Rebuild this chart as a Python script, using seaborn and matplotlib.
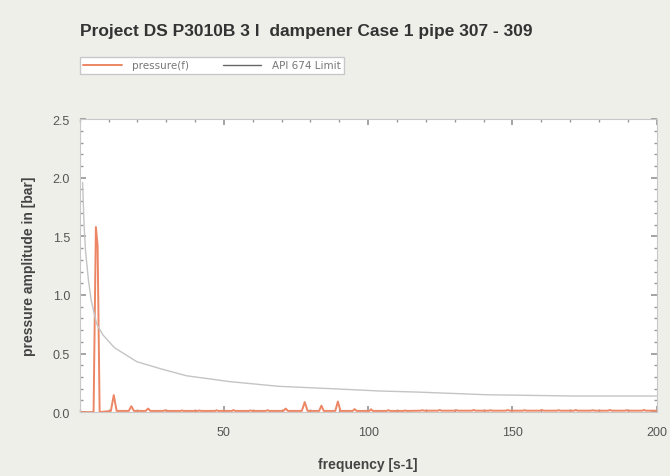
import numpy as np
import pandas as pd
import seaborn as sns
import matplotlib.pyplot as plt
from matplotlib.ticker import MultipleLocator

# pressure spectrum
freq = [0.5, 4.8, 5.6, 6.2, 6.9, 10.8, 11.8, 12.8, 17.0, 17.9, 18.8,
        22.9, 23.7, 24.5, 29.0, 29.6, 30.2, 35.0, 35.5, 36.0, 41.0, 41.5, 42.0,
        47.0, 47.4, 48.0, 52.8, 53.3, 53.8, 58.6, 59.2, 59.8, 64.5, 65.1, 65.7,
        70.6, 71.4, 72.2, 77.0, 78.0, 79.0, 83.0, 83.8, 84.6, 88.6, 89.5, 90.4,
        94.6, 95.3, 96.0, 100.4, 101.0, 101.6, 106.4, 107.0, 107.6, 112.3, 112.8, 113.4,
        118.2, 118.8, 119.4, 124.2, 124.8, 125.4, 130.0, 130.6, 131.2, 136.0, 136.6, 137.2,
        141.8, 142.4, 143.0, 147.8, 148.4, 149.0, 153.6, 154.2, 154.8, 159.6, 160.2, 160.8,
        165.4, 166.0, 166.6, 171.4, 172.0, 172.6, 177.2, 177.8, 178.4, 183.2, 183.8, 184.4,
        189.0, 189.6, 190.2, 195.0, 195.6, 196.2, 200.0]
pressure = [0.0, 0.0, 1.58, 1.42, 0.0, 0.01, 0.145, 0.01, 0.01, 0.05, 0.01,
            0.01, 0.03, 0.01, 0.01, 0.016, 0.01, 0.01, 0.014, 0.01, 0.01, 0.014, 0.01,
            0.01, 0.016, 0.01, 0.01, 0.018, 0.01, 0.01, 0.014, 0.01, 0.01, 0.016, 0.01,
            0.01, 0.03, 0.01, 0.01, 0.085, 0.01, 0.01, 0.055, 0.01, 0.01, 0.09, 0.01,
            0.01, 0.025, 0.01, 0.01, 0.024, 0.01, 0.01, 0.016, 0.01, 0.01, 0.014, 0.01,
            0.012, 0.016, 0.012, 0.012, 0.018, 0.012, 0.012, 0.016, 0.012, 0.012, 0.018, 0.012,
            0.012, 0.016, 0.012, 0.012, 0.018, 0.012, 0.012, 0.016, 0.012, 0.012, 0.018, 0.012,
            0.012, 0.016, 0.012, 0.012, 0.018, 0.012, 0.012, 0.016, 0.012, 0.012, 0.018, 0.012,
            0.012, 0.016, 0.012, 0.012, 0.018, 0.012, 0.012]

# API 674 limit curve
limit_freq = [1.0, 1.5, 2.0, 3.0, 4.0, 5.9, 8.0, 12.0, 19.8, 28.0, 37.0, 52.0,
              69.0, 87.0, 104.0, 118.0, 141.0, 172.0, 200.0]
limit_val = [1.96, 1.60, 1.38, 1.13, 0.95, 0.75, 0.66, 0.55, 0.43, 0.37, 0.31, 0.26,
             0.22, 0.20, 0.18, 0.17, 0.148, 0.137, 0.137]

title = "Project DS P3010B 3 l  dampener Case 1 pipe 307 - 309"

sns.set_theme(style="ticks")
plt.rcParams['font.family'] = ['Liberation Sans', 'DejaVu Sans']

bg = "#efefea"
fig = plt.figure(figsize=(6.7, 4.77), dpi=100, facecolor=bg)
ax = fig.add_axes([0.119, 0.134, 0.861, 0.614])
ax.set_facecolor("white")

df_p = pd.DataFrame({"frequency": freq, "amp": pressure})
df_l = pd.DataFrame({"frequency": limit_freq, "amp": limit_val})

sns.lineplot(data=df_p, x="frequency", y="amp", ax=ax, color="#ec8664",
             linewidth=1.4, label="pressure(f)")
sns.lineplot(data=df_l, x="frequency", y="amp", ax=ax, color="#c4c4c4",
             linewidth=1.0, label="API 674 Limit")

ax.set_xlim(0, 200)
ax.set_ylim(0, 2.5)
ax.set_xticks([50, 100, 150, 200])
ax.set_yticks([0.0, 0.5, 1.0, 1.5, 2.0, 2.5])
ax.set_yticklabels(["0.0", "0.5", "1.0", "1.5", "2.0", "2.5"])
ax.xaxis.set_minor_locator(MultipleLocator(10))
ax.yaxis.set_minor_locator(MultipleLocator(0.1))
ax.tick_params(which="both", direction="in", top=True, right=True, color="#999999",
               labelsize=9, labelcolor="#555555")
ax.tick_params(which="major", length=4)
ax.tick_params(which="minor", length=2)
ax.tick_params(axis="x", which="major", pad=10)
ax.tick_params(axis="y", which="major", pad=7)
for s in ax.spines.values():
    s.set_color("#c8c8c8")
    s.set_linewidth(0.8)

ax.set_xlabel("frequency [s-1]", fontsize=10, fontweight="bold", color="#444444",
              labelpad=14)
ax.set_ylabel("pressure amplitude in [bar]", fontsize=10, fontweight="bold",
              color="#444444", labelpad=12)

leg = ax.legend(loc="lower left", bbox_to_anchor=(0.0, 1.155), borderaxespad=0,
                ncol=2, frameon=True, fancybox=False, framealpha=1, edgecolor="#c8c8c8",
                handlelength=3.7, handletextpad=1.0, columnspacing=3.2, borderpad=0.35,
                labelcolor="#777777", prop={"family": "DejaVu Sans", "size": 7.5})
leg.get_lines()[1].set_color("#666666")

fig.text(0.119, 0.935, title, fontsize=12.5, fontweight="bold", color="#333333",
         ha="left", va="center")

fig.savefig("out.png", dpi=100, facecolor=bg)
